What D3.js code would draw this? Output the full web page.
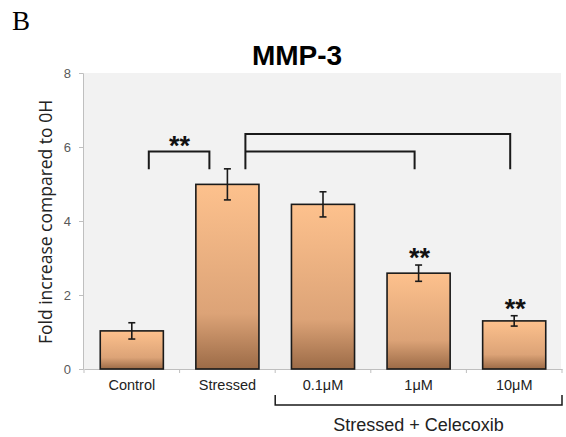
<!DOCTYPE html>
<html><head><meta charset="utf-8">
<script src="https://cdn.jsdelivr.net/npm/d3@7"></script>
<style>body{margin:0;background:#fff}svg{display:block}</style>
</head><body>
<script>
const categories = ["Control","Stressed","0.1μM","1μM","10μM"];
const values = [1.03, 4.99, 4.45, 2.59, 1.30];
const errors = [0.22, 0.42, 0.34, 0.22, 0.14];
const yTicks = [0,2,4,6,8];
const starred = ["1μM","10μM"];

const W=566,H=437;
const svg=d3.select("body").append("svg").attr("width",W).attr("height",H);
const defs=svg.append("defs");
const g=defs.append("linearGradient").attr("id","bar").attr("x1",0).attr("y1",0).attr("x2",0).attr("y2",1);
g.append("stop").attr("offset","0%").attr("stop-color","#fdc18d");
g.append("stop").attr("offset","70%").attr("stop-color","#dca377");
g.append("stop").attr("offset","100%").attr("stop-color","#9c6b47");

const x=d3.scaleBand().domain(categories).range([84,562]).paddingInner(0.34).paddingOuter(0.17);
const y=d3.scaleLinear().domain([0,8]).range([369,73]);

// background
svg.append("rect").attr("x",84).attr("y",y(8)).attr("width",477).attr("height",y(0)-y(8)).attr("fill","#f2f2f2");

// y axis
const ya=svg.append("g").attr("transform","translate(83,0)").call(d3.axisLeft(y).tickValues(yTicks).tickSize(4).tickPadding(8));
ya.select(".domain").attr("stroke","#bfbfbf");
ya.selectAll(".tick line").attr("stroke","#bfbfbf");
ya.selectAll("text").attr("font-family","Liberation Sans, Arial").attr("font-size",13).attr("fill","#595959");

// x axis
const xa=svg.append("g").attr("transform","translate(0,369)").call(d3.axisBottom(x).tickSize(0).tickPadding(11));
xa.select(".domain").attr("stroke","#bfbfbf");
xa.selectAll("text").attr("font-family","Liberation Sans, Arial").attr("font-size",14.5).attr("fill","#222");
const bounds=categories.map(c=>x(c)-x.step()*x.paddingInner()/2).concat([x(categories[4])+x.bandwidth()+x.step()*x.paddingInner()/2]);
svg.append("g").selectAll("line").data(bounds).join("line")
 .attr("x1",d=>d).attr("x2",d=>d).attr("y1",369).attr("y2",373).attr("stroke","#bfbfbf");

// bars
svg.append("g").selectAll("rect").data(values).join("rect")
 .attr("x",(d,i)=>x(categories[i])).attr("y",d=>y(d)).attr("width",x.bandwidth()).attr("height",d=>y(0)-y(d))
 .attr("fill","url(#bar)").attr("stroke","#1a1a1a").attr("stroke-width",1.6);

// error bars
const eb=svg.append("g").attr("stroke","#1a1a1a").attr("stroke-width",1.6);
values.forEach((v,i)=>{
  const cx=x(categories[i])+x.bandwidth()/2;
  eb.append("line").attr("x1",cx).attr("x2",cx).attr("y1",y(v+errors[i])).attr("y2",y(v-errors[i]));
  eb.append("line").attr("x1",cx-3.5).attr("x2",cx+3.5).attr("y1",y(v+errors[i])).attr("y2",y(v+errors[i]));
  eb.append("line").attr("x1",cx-3.5).attr("x2",cx+3.5).attr("y1",y(v-errors[i])).attr("y2",y(v-errors[i]));
});

// significance brackets
const br=svg.append("g").attr("stroke","#1a1a1a").attr("stroke-width",2).attr("fill","none");
const cxOf=c=>x(c)+x.bandwidth()/2;
br.append("path").attr("d",`M${cxOf("Control")+17},${y(5.4)} V${y(5.88)} H${cxOf("Stressed")-18} V${y(5.4)}`);
br.append("path").attr("d",`M${cxOf("Stressed")+18},${y(5.4)} V${y(6.35)} H${cxOf("10μM")-4} V${y(5.4)}`);
br.append("path").attr("d",`M${cxOf("Stressed")+18},${y(5.88)} H${cxOf("1μM")-4} V${y(5.4)}`);

function stars(cx,cyVal){
  svg.append("text").attr("x",cx).attr("y",y(cyVal)+15).attr("text-anchor","middle")
   .attr("font-family","Liberation Sans, Arial").attr("font-weight","bold").attr("font-size",27).attr("fill","#111").text("**");
}
stars((cxOf("Control")+cxOf("Stressed"))/2, 6.2);
starred.forEach(c=>{const i=categories.indexOf(c);stars(cxOf(c)+1, values[i]+errors[i]+0.35);});

// group bracket
svg.append("path").attr("d",`M${bounds[2]},395 V405 H${bounds[5]} V395`).attr("stroke","#1a1a1a").attr("stroke-width",1.5).attr("fill","none");
svg.append("text").attr("x",(bounds[2]+bounds[5])/2).attr("y",431).attr("text-anchor","middle")
 .attr("font-family","Liberation Sans, Arial").attr("font-size",18).attr("fill","#222").text("Stressed + Celecoxib");

// title
svg.append("text").attr("x",297).attr("y",65).attr("text-anchor","middle").attr("font-family","Liberation Sans, Arial")
 .attr("font-weight","bold").attr("font-size",28).attr("fill","#000").text("MMP-3");
svg.append("text").attr("x",12).attr("y",30).attr("font-family","Liberation Serif, Times New Roman").attr("font-size",27).attr("fill","#000").text("B");

// y label
svg.append("text").attr("transform",`translate(52,222) rotate(-90)`).attr("text-anchor","middle")
 .attr("font-family","Open Sans, Liberation Sans").attr("font-size",17.5).attr("fill","#222").text("Fold increase compared to 0H");
</script>
</body></html>
